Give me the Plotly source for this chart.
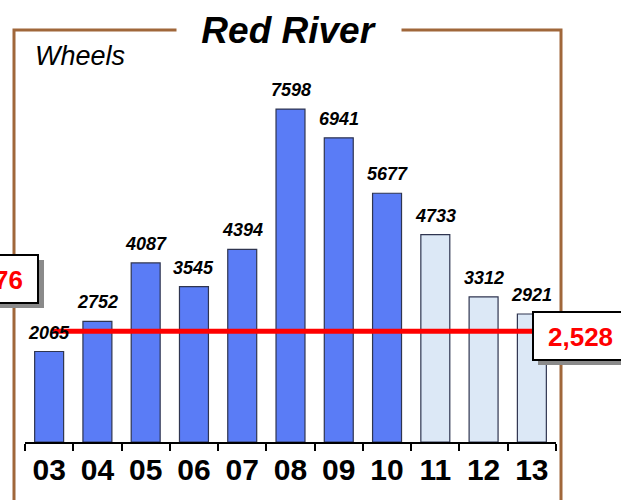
import plotly.graph_objects as go

years = ["03", "04", "05", "06", "07", "08", "09", "10", "11", "12", "13"]
wheels = [2065, 2752, 4087, 3545, 4394, 7598, 6941, 5677, 4733, 3312, 2921]
projected = [False] * 8 + [True] * 3
average = 2528
left_label = "76"

W, H = 621, 500
L, R, T, B = 25, 65, 70, 58


def px(p):
    return (p - L) / (W - L - R)


def py(p):
    return (H - B - p) / (H - T - B)


colors = ["#dce8f6" if p else "#5a7cf6" for p in projected]

fig = go.Figure(go.Bar(
    x=years,
    y=wheels,
    marker=dict(color=colors, line=dict(color="#2f3550", width=1.2)),
    hoverinfo="x+y",
))

shapes = [
    # brown frame
    dict(type="rect", xref="paper", yref="paper", x0=px(14), x1=px(561), y0=py(30), y1=py(530),
         line=dict(color="#a0673a", width=3), layer="below"),
    # average line
    dict(type="line", xref="paper", yref="y", x0=px(53), x1=px(535), y0=average, y1=average,
         line=dict(color="#ff0000", width=5), layer="above"),
    # box shadows
    dict(type="rect", xref="paper", yref="paper", x0=px(-20), x1=px(44), y0=py(260), y1=py(308),
         fillcolor="#8a8a8a", line=dict(width=0), layer="above"),
    dict(type="rect", xref="paper", yref="paper", x0=px(538), x1=px(640), y0=py(317), y1=py(365),
         fillcolor="#8a8a8a", line=dict(width=0), layer="above"),
    # boxes
    dict(type="rect", xref="paper", yref="paper", x0=px(-20), x1=px(38), y0=py(255), y1=py(303),
         fillcolor="white", line=dict(color="black", width=2), layer="above"),
    dict(type="rect", xref="paper", yref="paper", x0=px(533), x1=px(635), y0=py(312), y1=py(360),
         fillcolor="white", line=dict(color="black", width=2), layer="above"),
]

annotations = [
    dict(text="<b><i>Red River</i></b>", xref="paper", yref="paper", x=px(289), y=py(30),
         xanchor="center", yanchor="middle", showarrow=False, width=222, bgcolor="white",
         font=dict(family="Liberation Sans", size=37, color="black")),
    dict(text="<i>Wheels</i>", xref="paper", yref="paper", x=px(33), y=py(56),
         xanchor="left", yanchor="middle", showarrow=False,
         font=dict(family="Liberation Sans", size=27, color="black")),
    dict(text=f"<b>{left_label}</b>", xref="paper", yref="paper", x=px(25), y=py(280),
         xanchor="right", yanchor="middle", showarrow=False,
         font=dict(family="Liberation Sans", size=26, color="#ff0000")),
    dict(text=f"<b>{average:,}</b>", xref="paper", yref="paper", x=px(580), y=py(337),
         xanchor="center", yanchor="middle", showarrow=False,
         font=dict(family="Liberation Sans", size=26, color="#ff0000")),
]

# value labels above the bars (x given as category index)
for i, v in enumerate(wheels):
    annotations.append(dict(
        text=f"<b><i>{v}</i></b>", x=i, y=v, xref="x", yref="y",
        xanchor="center", yanchor="bottom", yshift=7, showarrow=False,
        font=dict(family="Liberation Sans", size=18, color="black"),
    ))

fig.update_layout(
    width=W,
    height=H,
    margin=dict(l=L, r=R, t=T, b=B),
    paper_bgcolor="white",
    plot_bgcolor="white",
    bargap=0.4,
    showlegend=False,
    shapes=shapes,
    annotations=annotations,
    xaxis=dict(
        type="category",
        range=[-0.5, len(years) - 0.5],
        tickson="boundaries",
        ticks="outside",
        ticklen=7,
        tickwidth=2,
        tickcolor="black",
        tickangle=0,
        showline=True,
        linecolor="black",
        linewidth=2,
        showgrid=False,
        tickfont=dict(family="Liberation Sans", size=30, color="black"),
        tickprefix="<b>",
        ticksuffix="</b>",
    ),
    yaxis=dict(range=[0, 8490], visible=False, showgrid=False, zeroline=False),
)

fig.write_html("out.html", config={"displayModeBar": False},
               post_script="document.body.style.margin='0px';")
